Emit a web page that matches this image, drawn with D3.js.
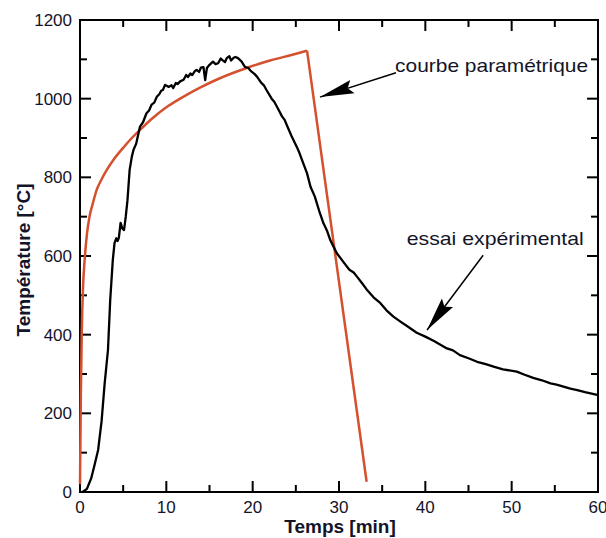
<!DOCTYPE html>
<html>
<head>
<meta charset="utf-8">
<script src="https://cdn.jsdelivr.net/npm/d3@7"></script>
<style>
  body { margin: 0; background: #fff; }
  text { font-family: Arial, "Liberation Sans", sans-serif; fill: #141428; }
</style>
</head>
<body>
<div id="chart"></div>
<script>
var width = 606,
    height = 538;

// essai experimental (temps min, temperature C)
var expTime = [0.3, 0.8, 1.3, 1.7, 2.1, 2.5, 2.86, 3.24, 3.5, 3.8, 4.0, 4.2, 4.35, 4.5, 4.7, 4.9, 5.1, 5.3, 5.5, 5.75, 6.0, 6.2, 6.5, 6.95, 7.3, 7.7, 8.0, 8.3, 8.6, 8.9, 9.2, 9.4, 9.6, 9.85, 10.1, 10.3, 10.6, 10.8, 11.1, 11.3, 11.6, 12.0, 12.3, 12.5, 12.8, 13.0, 13.3, 13.5, 13.8, 14.0, 14.3, 14.5, 14.7, 15.0, 15.4, 15.7, 16.0, 16.3, 16.5, 16.8, 17.0, 17.3, 17.5, 17.8, 18.0, 18.3, 18.7, 19.1, 19.5, 19.8, 20.2, 20.5, 21.0, 21.3, 21.6, 22.2, 22.5, 22.8, 23.4, 23.7, 23.95, 24.5, 25.1, 25.4, 25.7, 26.3, 26.7, 27.2, 27.7, 28.2, 28.6, 29.0, 29.4, 29.75, 30.5, 31.2, 31.7, 32.1, 32.7, 33.2, 34.0, 34.8, 35.5, 36.3, 37.2, 38.0, 39.0, 40.0, 41.0, 42.5, 43.2, 44.0, 45.0, 46.0, 47.0, 48.0, 49.0, 50.6, 51.5, 52.5, 53.5, 54.5, 55.2, 56.0, 56.8, 57.6, 58.5, 59.9];
var expTemp = [0, 8, 35, 70, 107, 180, 277, 361, 488, 590, 633, 645, 638, 646, 684, 670, 666, 700, 742, 819, 852, 870, 885, 929, 940, 963, 970, 985, 990, 1005, 1012, 1020, 1022, 1035, 1032, 1030, 1034, 1027, 1040, 1037, 1044, 1048, 1060, 1055, 1064, 1060, 1070, 1073, 1068, 1079, 1080, 1047, 1078, 1086, 1094, 1088, 1090, 1102, 1098, 1093, 1103, 1108, 1097, 1104, 1106, 1103, 1095, 1081, 1078, 1070, 1063, 1056, 1040, 1034, 1022, 1000, 992, 980, 955, 946, 933, 905, 878, 863, 845, 810, 776, 751, 715, 683, 665, 640, 622, 607, 585, 565, 558, 547, 530, 515, 495, 480, 462, 446, 432, 420, 405, 395, 384, 365, 360, 348, 340, 331, 325, 318, 312, 306, 298, 290, 284, 276, 273, 268, 263, 259, 254, 247];

// courbe parametrique
var parTime = [0, 0.1, 0.2, 0.35, 0.54, 0.8, 1.1, 1.5, 1.93, 2.5, 3.0, 3.86, 5.0, 6.0, 7.3, 8.5, 10.0, 11.6, 13.9, 16.0, 19.3, 22.0, 24.5, 26.3];
var parTemp = [20, 250, 400, 520, 590, 655, 700, 735, 768, 795, 815, 844, 875, 900, 928, 952, 978, 1000, 1028, 1050, 1078, 1097, 1111, 1122];
var parEndTime = 33.2,
    parEndTemp = 26;

var xTicks = [0, 10, 20, 30, 40, 50, 60];
var yTicks = [0, 200, 400, 600, 800, 1000, 1200];

var expData = expTime.map(function (t, i) { return {t: t, v: expTemp[i]}; });
var parData = parTime.map(function (t, i) { return {t: t, v: parTemp[i]}; });
var parFall = [parData[parData.length - 1], {t: parEndTime, v: parEndTemp}];

var svg = d3.select("#chart").append("svg")
    .attr("width", width)
    .attr("height", height);

var x = d3.scaleLinear().domain([0, 60]).range([80, 598]);
var y = d3.scaleLinear().domain([0, 1200]).range([492, 20]);

// frame
svg.append("rect")
    .attr("x", x(0)).attr("y", y(1200))
    .attr("width", x(60) - x(0)).attr("height", y(0) - y(1200))
    .style("fill", "none").style("stroke", "#000").style("stroke-width", 2);

// inward ticks on all four sides
var xMinor = d3.range(5, 60, 10);
var yMinor = d3.range(100, 1200, 200);

function tickLines(vals, len, horiz) {
    vals.forEach(function (v) {
        if (horiz) {
            svg.append("line").attr("x1", x(v)).attr("x2", x(v))
                .attr("y1", y(0)).attr("y2", y(0) - len)
                .style("stroke", "#000").style("stroke-width", 2);
            svg.append("line").attr("x1", x(v)).attr("x2", x(v))
                .attr("y1", y(1200)).attr("y2", y(1200) + len)
                .style("stroke", "#000").style("stroke-width", 2);
        } else {
            svg.append("line").attr("y1", y(v)).attr("y2", y(v))
                .attr("x1", x(0)).attr("x2", x(0) + len)
                .style("stroke", "#000").style("stroke-width", 2);
            svg.append("line").attr("y1", y(v)).attr("y2", y(v))
                .attr("x1", x(60)).attr("x2", x(60) - len)
                .style("stroke", "#000").style("stroke-width", 2);
        }
    });
}
tickLines(xTicks.slice(1, -1), 11, true);
tickLines(xMinor, 7, true);
tickLines(yTicks.slice(1, -1), 11, false);
tickLines(yMinor, 7, false);

// tick labels
svg.selectAll("text.xt")
    .data(xTicks)
    .enter().append("text")
    .attr("class", "xt")
    .attr("x", function (d) { return x(d); })
    .attr("y", 513)
    .attr("text-anchor", "middle")
    .style("font-size", "17px")
    .text(function (d) { return d; });

svg.selectAll("text.yt")
    .data(yTicks)
    .enter().append("text")
    .attr("class", "yt")
    .attr("x", 72)
    .attr("y", function (d) { return y(d) + 6; })
    .attr("text-anchor", "end")
    .style("font-size", "17px")
    .text(function (d) { return d; });

// axis titles
svg.append("text")
    .attr("x", 340).attr("y", 533)
    .attr("text-anchor", "middle")
    .style("font-size", "19px").style("font-weight", "bold")
    .text("Temps [min]");

svg.append("text")
    .attr("transform", "translate(30,260) rotate(-90)")
    .attr("text-anchor", "middle")
    .style("font-size", "19px").style("font-weight", "bold")
    .text("Température [°C]");

// curves
var line = d3.line()
    .x(function (d) { return x(d.t); })
    .y(function (d) { return y(d.v); });

svg.append("path")
    .attr("d", line.curve(d3.curveMonotoneX)(parData))
    .style("fill", "none").style("stroke", "#d4502e").style("stroke-width", 2.5);
svg.append("path")
    .attr("d", line.curve(d3.curveLinear)(parFall))
    .style("fill", "none").style("stroke", "#d4502e").style("stroke-width", 2.5);

svg.append("path")
    .attr("d", line.curve(d3.curveLinear)(expData))
    .style("fill", "none").style("stroke", "#000").style("stroke-width", 2.3)
    .style("stroke-linejoin", "round");

// annotations
svg.append("defs").append("marker")
    .attr("id", "head")
    .attr("markerUnits", "userSpaceOnUse")
    .attr("viewBox", "0 0 34 16")
    .attr("markerWidth", 34).attr("markerHeight", 16)
    .attr("refX", 34).attr("refY", 8)
    .attr("orient", "auto")
    .append("path")
    .attr("d", "M0,1 L34,8 L0,15 L5,8 Z")
    .style("fill", "#000");

var notes = [
    {label: "courbe paramétrique", tx: 36.5, ty: 1068, len: 193, from: [36.6, 1066], to: [27.8, 1004]},
    {label: "essai expérimental", tx: 37.85, ty: 628, len: 177, from: [46.7, 602], to: [40.2, 412]}
];

notes.forEach(function (n) {
    svg.append("line")
        .attr("x1", x(n.from[0])).attr("y1", y(n.from[1]))
        .attr("x2", x(n.to[0])).attr("y2", y(n.to[1]))
        .attr("marker-end", "url(#head)")
        .style("stroke", "#000").style("stroke-width", 1.5);
    svg.append("text")
        .attr("x", x(n.tx)).attr("y", y(n.ty))
        .attr("textLength", n.len).attr("lengthAdjust", "spacingAndGlyphs")
        .style("font-size", "19px")
        .text(n.label);
});
</script>
</body>
</html>
